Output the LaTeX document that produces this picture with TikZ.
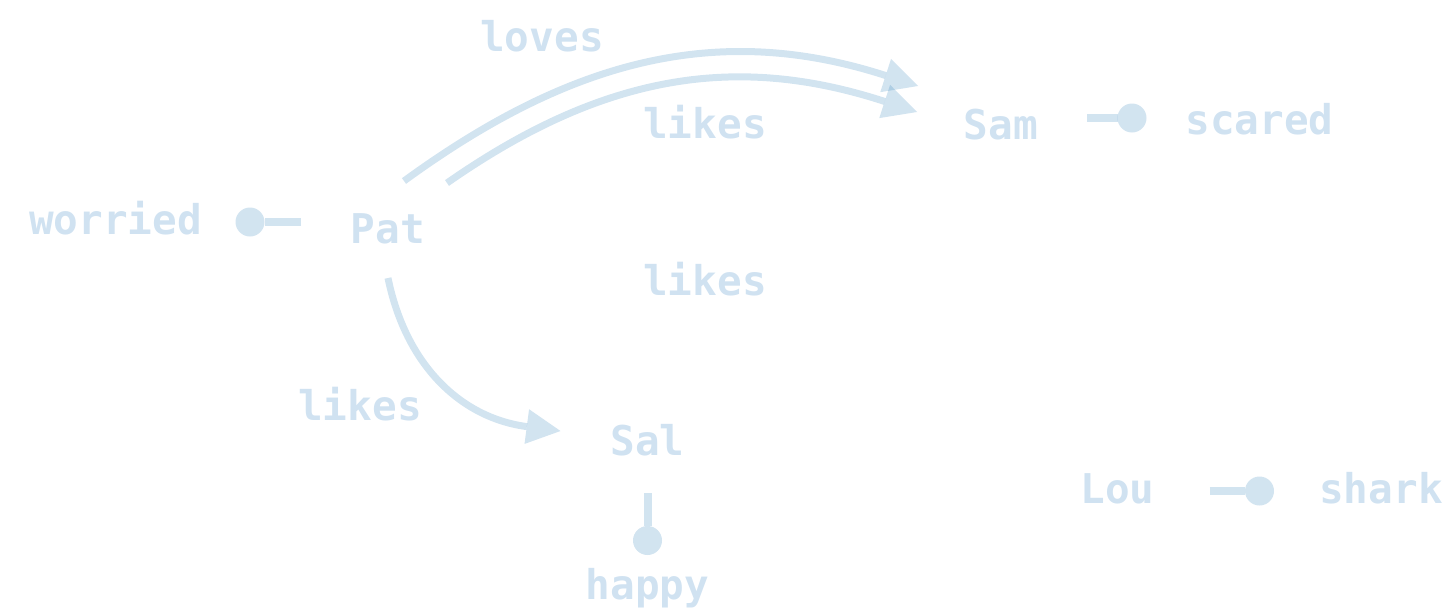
\documentclass[tikz,border=0pt]{standalone}
\usepackage{fontspec}
\newfontfamily\labelfont{DejaVu Sans Mono}
\usetikzlibrary{arrows.meta}
\definecolor{base}{RGB}{31,119,180}
\definecolor{ink}{RGB}{208,226,241}
\begin{document}
\begin{tikzpicture}[x=1pt,y=-1pt,
  lbl/.style={anchor=base, inner sep=0pt, text=ink,
    font=\labelfont\bfseries\fontsize{41}{41}\selectfont},
  rel/.style={line width=7pt, color=base, draw opacity=0.2, fill opacity=0.2,
    -{Triangle[length=34pt,width=35pt,line width=0pt]}},
  prop/.style={line width=8pt, color=base, draw opacity=0.2, fill opacity=0.2,
    -{Circle[length=29pt,line width=0pt]}}
]
\useasboundingbox (0,0) rectangle (1456,613);

\node[lbl] (worried) at (115.5,234) {worried};
\node[lbl] (Pat)     at (388,243)   {Pat};
\node[lbl] (Sam)     at (1001,139)  {Sam};
\node[lbl] (scared)  at (1259.5,134) {scared};
\node[lbl] (Sal)     at (647.5,455) {Sal};
\node[lbl] (happy)   at (647.5,599) {happy};
\node[lbl] (Lou)     at (1117.5,503) {Lou};
\node[lbl] (shark)   at (1381,503)  {shark};

\node[lbl] (lovesL)  at (542,51)  {loves};
\node[lbl] (likesA)  at (705,138) {likes};
\node[lbl] (likesB)  at (705,295) {likes};
\node[lbl] (likesC)  at (360,420) {likes};

\draw[rel] ([shift={(16,-62)}]Pat.base) .. controls +(162,-118) and +(-204,-66) .. ([shift={(-83,-53)}]Sam.base);
\draw[rel] ([shift={(59,-60)}]Pat.base) .. controls +(156,-109) and +(-181,-59) .. ([shift={(-84,-27)}]Sam.base);
\draw[rel] ([shift={(0,35)}]Pat.base) .. controls +(18,88) and +(-99,-13) .. ([shift={(-87,-24)}]Sal.base);

\draw[prop] ([shift={(-87,-21)}]Pat.base) -- ([shift={(120,-12)}]worried.base);
\draw[prop] ([shift={(86,-21)}]Sam.base) -- ([shift={(-113,-16)}]scared.base);
\draw[prop] ([shift={(92,-12)}]Lou.base) -- ([shift={(-107,-12)}]shark.base);
\draw[prop] ([shift={(0,38)}]Sal.base) -- ([shift={(0,-44)}]happy.base);
\end{tikzpicture}
\end{document}
